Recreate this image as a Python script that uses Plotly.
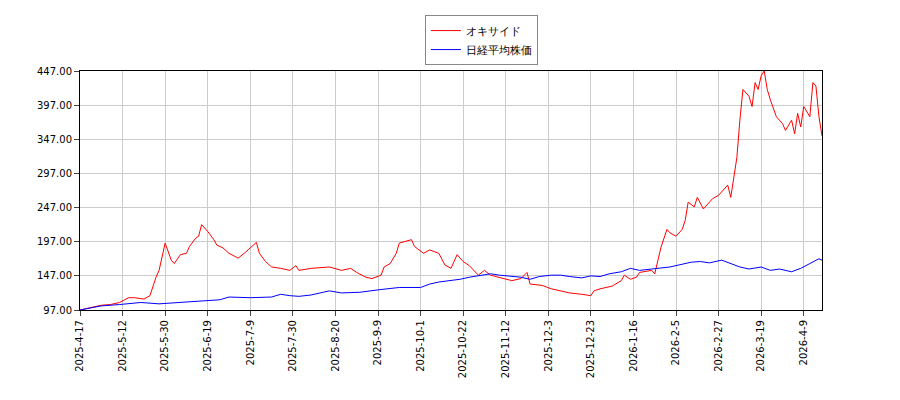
import plotly.graph_objects as go

# trading-day index since 2025-04-17
tick_idx = [0, 14, 28, 42, 56, 70, 84, 98, 112, 126, 140, 154, 168, 182, 196, 210, 224, 238]
tick_text = ["2025-4-17", "2025-5-12", "2025-5-30", "2025-6-19", "2025-7-9", "2025-7-30",
             "2025-8-20", "2025-9-9", "2025-10-1", "2025-10-22", "2025-11-12", "2025-12-3",
             "2025-12-23", "2026-1-16", "2026-2-5", "2026-2-27", "2026-3-19", "2026-4-9"]

red_x = [0, 3, 7, 10, 13, 16, 18, 21, 23, 25, 26, 28, 30, 31, 33, 35, 36, 38, 39, 40, 42, 44, 45,
         47, 49, 52, 54, 58, 59, 61, 63, 66, 69, 71, 72, 76, 79, 82, 86, 89, 91, 94, 96, 99, 100,
         102, 104, 105, 109, 110, 113, 115, 118, 120, 122, 124, 126, 128, 131, 133, 135, 138, 142,
         145, 147, 148, 152, 155, 158, 161, 165, 168, 169, 171, 175, 178, 179, 181, 183, 184, 188,
         189, 191, 193, 194, 196, 198, 199, 200, 202, 203, 205, 207, 208, 210, 211, 213, 214, 215,
         216, 217, 218, 220, 221, 222, 223, 224, 225, 226, 227, 229, 231, 232, 234, 235, 236, 237,
         238, 240, 241, 242, 243, 244]
red_y = [97, 100, 104, 105, 108, 115, 115, 113, 118, 145, 155, 195, 170, 165, 178, 180, 190, 202,
         205, 222, 212, 200, 192, 188, 180, 173, 180, 196, 180, 168, 160, 158, 155, 162, 155, 158,
         159, 160, 155, 158, 152, 145, 143, 148, 160, 165, 180, 195, 200, 190, 180, 185, 180, 163,
         158, 178, 168, 162, 148, 155, 148, 145, 140, 143, 152, 135, 133, 128, 125, 122, 120, 118,
         125, 128, 132, 140, 148, 142, 145, 152, 155, 150, 188, 215, 210, 205, 215, 228, 255, 248,
         262, 245, 255, 260, 265, 270, 280, 262, 295, 320, 375, 420, 410, 395, 430, 420, 440, 447,
         420, 405, 380, 370, 360, 375, 355, 385, 365, 395, 380, 430, 425, 380, 352]

blue_x = [0, 7, 13, 20, 26, 33, 39, 46, 49, 56, 63, 66, 69, 72, 76, 79, 82, 86, 92, 99, 105, 112,
          115, 118, 122, 125, 128, 132, 135, 138, 141, 145, 148, 151, 155, 158, 161, 165, 168, 171,
          174, 178, 181, 184, 188, 191, 194, 197, 201, 204, 207, 211, 214, 217, 220, 224, 227, 230,
          234, 237, 240, 243, 244]
blue_y = [97, 103, 105, 108, 106, 108, 110, 112, 116, 115, 116, 120, 118, 117, 119, 122, 125, 122,
          123, 127, 130, 130, 135, 138, 140, 142, 145, 148, 150, 148, 147, 145, 142, 146, 148, 148,
          146, 144, 147, 146, 150, 153, 158, 155, 157, 158, 160, 163, 167, 168, 166, 170, 165, 160,
          157, 160, 155, 157, 153, 158, 165, 172, 170]

fig = go.Figure()
fig.add_trace(go.Scatter(x=red_x, y=red_y, mode="lines", name="オキサイド",
                         line=dict(color="red", width=1)))
fig.add_trace(go.Scatter(x=blue_x, y=blue_y, mode="lines", name="日経平均株価",
                         line=dict(color="blue", width=1)))

axis_common = dict(showgrid=True, gridcolor="#cccccc", showline=True, linecolor="black",
                   mirror=True, ticks="outside", tickfont=dict(size=10, color="black"),
                   zeroline=False, automargin=False)
fig.update_layout(
    width=900, height=400,
    margin=dict(l=72, r=86, t=63, b=98, autoexpand=False),
    plot_bgcolor="white", paper_bgcolor="white",
    font=dict(family="DejaVu Sans", size=11, color="black"),
    showlegend=True,
    legend=dict(x=0.541, y=1.234, xanchor="center", yanchor="top", bordercolor="#888888",
                borderwidth=1, font=dict(size=11)),
    xaxis=dict(axis_common, range=[0, 244], tickvals=tick_idx, ticktext=tick_text, tickangle=-90),
    yaxis=dict(axis_common, range=[97, 447], tickvals=[97, 147, 197, 247, 297, 347, 397, 447],
               tickformat=".2f"),
)
fig.write_html("out.html")
